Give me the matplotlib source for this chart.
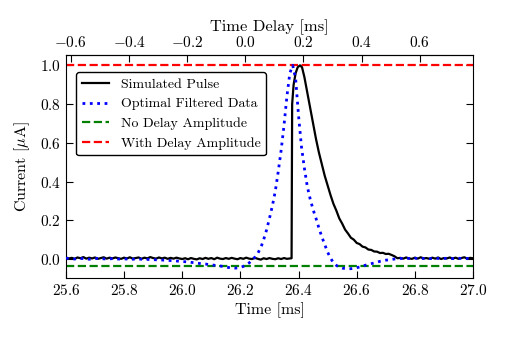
import numpy as np
import matplotlib
matplotlib.use("Agg")
import matplotlib.pyplot as plt

plt.rcParams['font.family'] = ['cmr10', 'DejaVu Serif']
plt.rcParams['mathtext.fontset'] = 'cm'
plt.rcParams['axes.formatter.use_mathtext'] = True
plt.rcParams['axes.unicode_minus'] = True

# ---------------- data ----------------
# Simulated pulse: baseline before the pulse (25.60 .. 26.37, step 0.01)
pulse_pre_t0, pulse_pre_t1 = 25.60, 26.37
pulse_pre = [
    0.008, 0.003, 0.006, 0.001, 0.008, 0.004, 0.010, 0.002, 0.007, 0.003,
    0.008, 0.001, 0.005, 0.009, 0.002, 0.007, 0.003, 0.008, 0.004, 0.001,
    0.007, 0.003, 0.009, 0.002, 0.005, 0.008, 0.001, 0.007, 0.003, 0.010,
    0.005, 0.002, 0.008, 0.003, 0.007, 0.001, 0.006, 0.002, 0.007, 0.003,
    0.000, 0.004, -0.001, 0.005, 0.001, -0.002, 0.004, 0.000, 0.006, 0.001,
    0.005, -0.001, 0.007, 0.002, 0.000, 0.005, 0.001, 0.006, 0.002, -0.001,
    0.005, 0.001, 0.007, 0.002, 0.000, 0.006, 0.001, -0.003, 0.004, 0.000,
    0.005, 0.001, -0.001, 0.004, 0.000, 0.005, 0.001, 0.003,
]
# Simulated pulse: rise and decay
pulse_mid_t = [26.376, 26.378, 26.383, 26.390, 26.397, 26.405, 26.412,
               26.42, 26.43, 26.44, 26.45, 26.46, 26.47, 26.48, 26.49, 26.50,
               26.51, 26.52, 26.53, 26.54, 26.55, 26.56, 26.57, 26.58, 26.59,
               26.60, 26.61, 26.62, 26.63, 26.64, 26.65, 26.66, 26.67, 26.68,
               26.69, 26.70, 26.71, 26.72, 26.73, 26.74]
pulse_mid = [0.004, 0.80, 0.90, 0.96, 0.99, 1.00, 0.99,
             0.94, 0.86, 0.78, 0.70, 0.62, 0.55, 0.49, 0.43, 0.38,
             0.33, 0.285, 0.25, 0.21, 0.183, 0.152, 0.132, 0.110, 0.100,
             0.083, 0.077, 0.064, 0.060, 0.049, 0.047, 0.039, 0.038, 0.031,
             0.032, 0.026, 0.027, 0.021, 0.014, 0.004]
# Simulated pulse: baseline after the pulse (26.75 .. 27.00, step 0.01)
pulse_post_t0, pulse_post_t1 = 26.75, 27.00
pulse_post = [
    0.006, 0.002, 0.008, 0.003, 0.001, 0.007, 0.002, 0.009, 0.003, 0.005,
    0.001, 0.007, 0.002, 0.008, 0.000, 0.005, 0.003, 0.008, 0.002, 0.007,
    0.001, 0.005, 0.009, 0.002, 0.006, 0.004,
]

# Optimal filtered data (25.60 .. 27.00, step 0.01)
filt_t0, filt_t1 = 25.60, 27.00
filtered = [
    0.004, 0.003, 0.001, 0.000, 0.002, 0.003, 0.002, 0.000, -0.001, 0.000,
    0.002, 0.003, 0.002, 0.001, 0.000, 0.001, 0.002, 0.001, 0.000, 0.000,
    0.001, 0.000, -0.001, -0.001, 0.000, 0.000, -0.001, -0.002, -0.002, -0.003,
    -0.003, -0.004, -0.004, -0.005, -0.006, -0.007, -0.008, -0.009, -0.010, -0.012,
    -0.013, -0.014, -0.015, -0.017, -0.019, -0.021, -0.023, -0.025, -0.026, -0.028,
    -0.030, -0.032, -0.034, -0.036, -0.038, -0.041, -0.044, -0.046, -0.047, -0.046,
    -0.043, -0.038, -0.030, -0.020, -0.007, 0.010, 0.030, 0.058, 0.100, 0.150,
    0.210, 0.275, 0.350, 0.450, 0.560, 0.690, 0.840, 0.960, 1.000, 0.930,
    0.740, 0.580, 0.470, 0.375, 0.310, 0.255, 0.210, 0.160, 0.115, 0.075,
    0.035, 0.005, -0.020, -0.033, -0.042, -0.047, -0.049, -0.050, -0.050, -0.048,
    -0.045, -0.041, -0.037, -0.032, -0.028, -0.024, -0.020, -0.016, -0.012, -0.009,
    -0.006, -0.004, -0.002, 0.000, 0.002, 0.003, 0.002, 0.004, 0.003, 0.002,
    0.004, 0.003, 0.002, 0.003, 0.004, 0.002, 0.003, 0.004, 0.003, 0.002,
    0.003, 0.004, 0.003, 0.002, 0.003, 0.004, 0.003, 0.002, 0.003, 0.004,
    0.003,
]

no_delay_amp = -0.036
with_delay_amp = 1.0
delay_zero = 26.217

xticks_bottom = [25.6, 25.8, 26.0, 26.2, 26.4, 26.6, 26.8, 27.0]
xticks_top = [-0.6, -0.4, -0.2, 0.0, 0.2, 0.4, 0.6]
yticks = [0.0, 0.2, 0.4, 0.6, 0.8, 1.0]

# ---------------- build series ----------------
t_pre = np.round(np.arange(len(pulse_pre)) * 0.01 + pulse_pre_t0, 3)
t_post = np.round(np.arange(len(pulse_post)) * 0.01 + pulse_post_t0, 3)
pulse_t = np.concatenate([t_pre, pulse_mid_t, t_post])
pulse_v = np.concatenate([pulse_pre, pulse_mid, pulse_post])
filt_t = np.round(np.arange(len(filtered)) * 0.01 + filt_t0, 3)

# ---------------- plot ----------------
fig = plt.figure(figsize=(5.07, 3.38), dpi=100)
ax = fig.add_axes([0.130, 0.1775, 0.803, 0.6595])

ax.plot(pulse_t, pulse_v, color='black', lw=1.6, label='Simulated Pulse', zorder=3)
ax.plot(filt_t, filtered, color='blue', lw=2.0, ls=':', label='Optimal Filtered Data', zorder=4)
ax.axhline(no_delay_amp, color='green', lw=1.6, ls='--', label='No Delay Amplitude', zorder=2)
ax.axhline(with_delay_amp, color='red', lw=1.6, ls='--', label='With Delay Amplitude', zorder=2)

ax.set_xlim(25.6, 27.0)
ax.set_ylim(-0.098, 1.053)
ax.set_xticks(xticks_bottom)
ax.set_yticks(yticks)
ax.tick_params(direction='in', right=True, labelsize=11, length=5)
ax.set_xlabel('Time [ms]', fontsize=11.5, labelpad=3)
ax.set_ylabel(r'Current [$\mu$A]', fontsize=11.5, labelpad=6)

sec = ax.secondary_xaxis('top', functions=(lambda t: t - delay_zero, lambda d: d + delay_zero))
sec.set_xticks(xticks_top)
sec.tick_params(direction='in', labelsize=11, length=5)
sec.set_xlabel('Time Delay [ms]', fontsize=11.8, labelpad=3)

leg = ax.legend(loc='upper left', bbox_to_anchor=(0.025, 0.922), borderaxespad=0,
                fontsize=10.0, frameon=True, fancybox=True, framealpha=1,
                edgecolor='black', handlelength=2.0, borderpad=0.4,
                labelspacing=0.5)
leg.get_frame().set_linewidth(1.0)

fig.savefig('out.png', dpi=100)
